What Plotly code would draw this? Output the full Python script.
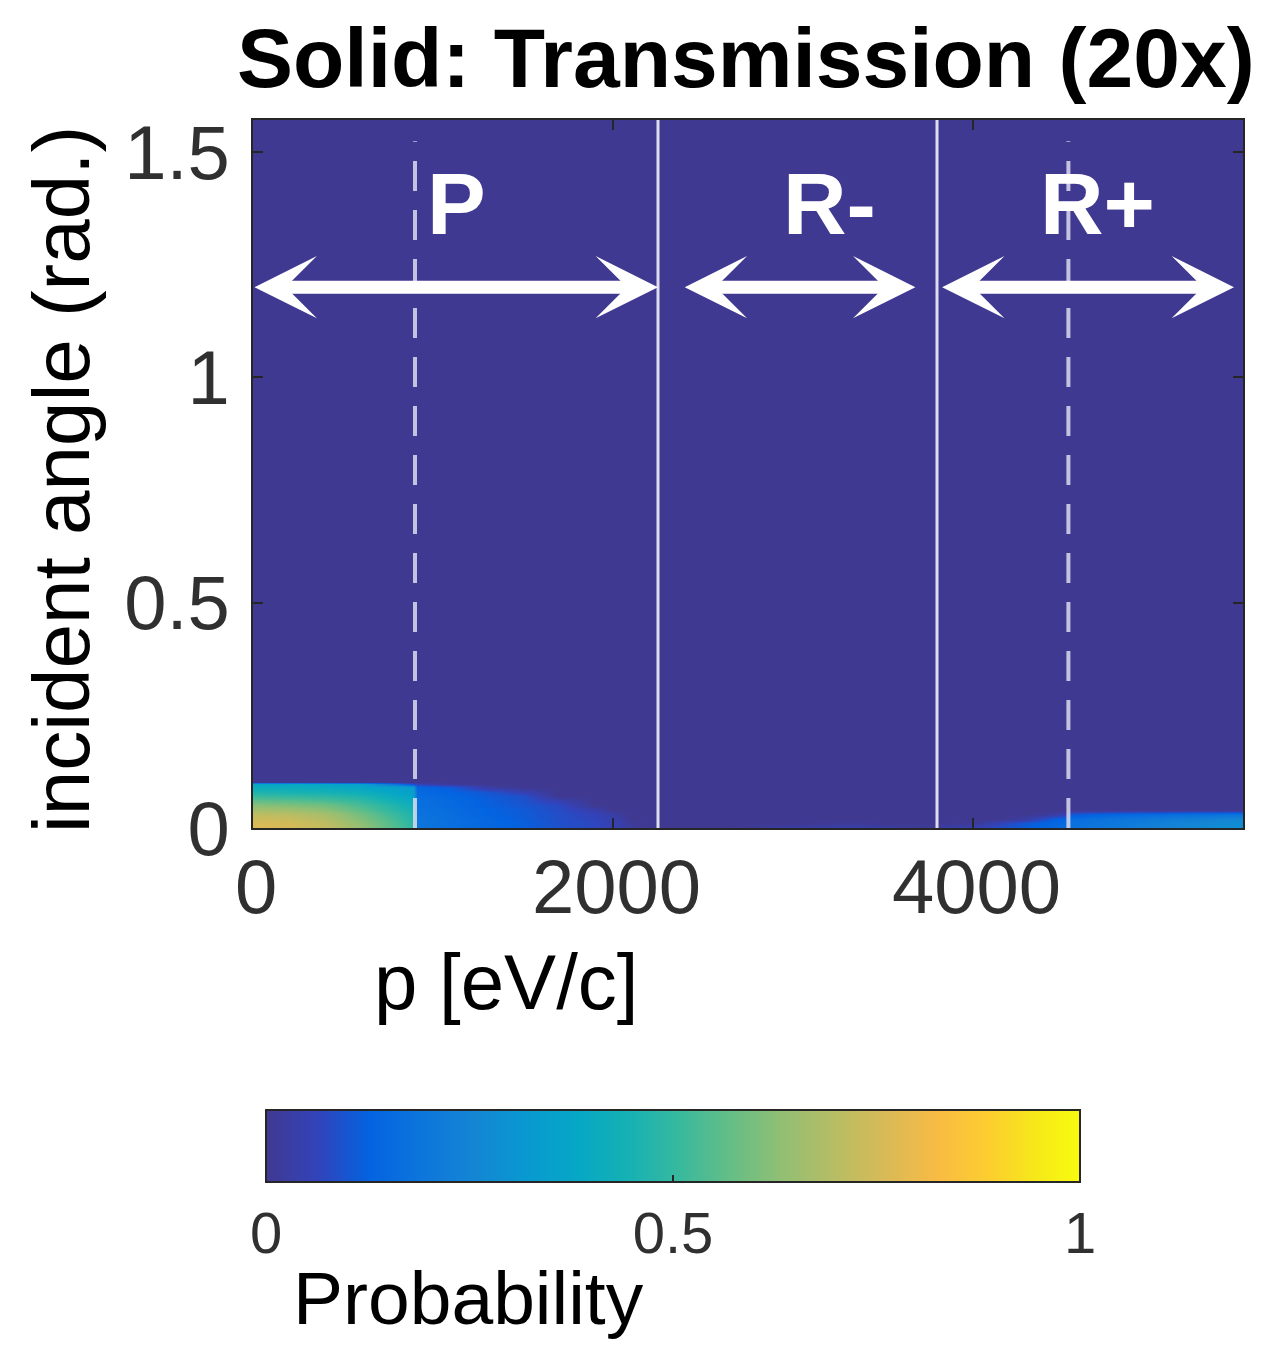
import plotly.graph_objects as go

# ---------------- data ----------------
p_values = [0, 200, 400, 600, 800, 890, 910, 1100, 1300, 1500, 1700, 1900, 2000, 2100, 2200,
            2600, 3000, 3300, 3600, 3790, 3810, 4000, 4150, 4300, 4450, 4520, 4540, 4800, 5100, 5500]
angle_values = [0, 0.01, 0.02, 0.03, 0.04, 0.05, 0.06, 0.07, 0.08, 0.09, 0.097, 0.103, 1.5708]

prob_a000 = [0.77, 0.76, 0.72, 0.64, 0.54, 0.49, 0.19, 0.17, 0.14, 0.12, 0.09, 0.07, 0.05, 0.02, 0,
             0, 0.03, 0.045, 0.02, 0.01, 0.03, 0.05, 0.09, 0.12, 0.15, 0.17, 0.18, 0.21, 0.25, 0.29]
prob_a001 = [0.76, 0.75, 0.71, 0.63, 0.53, 0.48, 0.19, 0.17, 0.14, 0.12, 0.09, 0.07, 0.05, 0.015, 0,
             0, 0, 0.01, 0, 0, 0, 0.01, 0.06, 0.11, 0.14, 0.16, 0.17, 0.20, 0.24, 0.28]
prob_a002 = [0.74, 0.73, 0.69, 0.61, 0.52, 0.47, 0.19, 0.17, 0.14, 0.115, 0.085, 0.065, 0.045, 0, 0,
             0, 0, 0, 0, 0, 0, 0, 0, 0.03, 0.12, 0.14, 0.16, 0.19, 0.22, 0.26]
prob_a003 = [0.71, 0.70, 0.67, 0.59, 0.50, 0.46, 0.18, 0.16, 0.13, 0.11, 0.085, 0.06, 0.03, 0, 0,
             0, 0, 0, 0, 0, 0, 0, 0, 0, 0.02, 0.05, 0.10, 0.14, 0.16, 0.18]
prob_a004 = [0.67, 0.66, 0.63, 0.56, 0.48, 0.44, 0.18, 0.16, 0.13, 0.11, 0.08, 0.04, 0, 0, 0,
             0, 0, 0, 0, 0, 0, 0, 0, 0, 0, 0, 0, 0, 0, 0]
prob_a005 = [0.62, 0.61, 0.59, 0.53, 0.46, 0.42, 0.17, 0.15, 0.12, 0.10, 0.075, 0, 0, 0, 0,
             0, 0, 0, 0, 0, 0, 0, 0, 0, 0, 0, 0, 0, 0, 0]
prob_a006 = [0.57, 0.56, 0.54, 0.50, 0.43, 0.40, 0.17, 0.15, 0.12, 0.095, 0.05, 0, 0, 0, 0,
             0, 0, 0, 0, 0, 0, 0, 0, 0, 0, 0, 0, 0, 0, 0]
prob_a007 = [0.51, 0.50, 0.49, 0.46, 0.40, 0.37, 0.16, 0.14, 0.11, 0.09, 0, 0, 0, 0, 0,
             0, 0, 0, 0, 0, 0, 0, 0, 0, 0, 0, 0, 0, 0, 0]
prob_a008 = [0.46, 0.45, 0.44, 0.42, 0.37, 0.35, 0.15, 0.13, 0.10, 0.05, 0, 0, 0, 0, 0,
             0, 0, 0, 0, 0, 0, 0, 0, 0, 0, 0, 0, 0, 0, 0]
prob_a009 = [0.41, 0.41, 0.40, 0.38, 0.35, 0.33, 0.14, 0.11, 0.03, 0, 0, 0, 0, 0, 0,
             0, 0, 0, 0, 0, 0, 0, 0, 0, 0, 0, 0, 0, 0, 0]
prob_a0097 = [0.38, 0.38, 0.37, 0.35, 0.18, 0.10, 0.06, 0.02, 0, 0, 0, 0, 0, 0, 0,
              0, 0, 0, 0, 0, 0, 0, 0, 0, 0, 0, 0, 0, 0, 0]
prob_a0103 = [0, 0, 0, 0, 0, 0, 0, 0, 0, 0, 0, 0, 0, 0, 0,
              0, 0, 0, 0, 0, 0, 0, 0, 0, 0, 0, 0, 0, 0, 0]
prob_top = [0, 0, 0, 0, 0, 0, 0, 0, 0, 0, 0, 0, 0, 0, 0,
            0, 0, 0, 0, 0, 0, 0, 0, 0, 0, 0, 0, 0, 0, 0]

probability = [prob_a000, prob_a001, prob_a002, prob_a003, prob_a004, prob_a005, prob_a006,
               prob_a007, prob_a008, prob_a009, prob_a0097, prob_a0103, prob_top]

x_ticks = [0, 2000, 4000]
x_tick_text = ["0", "2000", "4000"]
y_ticks = [0, 0.5, 1, 1.5]
y_tick_text = ["0", "0.5", "1", "1.5"]
cbar_ticks = [0, 0.5, 1]
cbar_tick_text = ["0", "0.5", "1"]

region_bounds = [2250, 3800]        # solid white lines
dashed_marks = [900, 4530]          # dashed white lines
region_labels = ["P", "R-", "R+"]
region_label_x = [1130, 3200, 4690]
region_arrow_start = [0, 2390, 3820]
region_arrow_end = [2250, 3680, 5450]

# ---------------- style ----------------
parula = [
    [0.000, "rgb(64,57,145)"],
    [0.0635, "rgb(50,67,186)"],
    [0.127, "rgb(3,99,225)"],
    [0.190, "rgb(13,117,220)"],
    [0.254, "rgb(20,133,212)"],
    [0.317, "rgb(9,152,209)"],
    [0.381, "rgb(6,167,198)"],
    [0.444, "rgb(21,177,180)"],
    [0.508, "rgb(56,185,158)"],
    [0.571, "rgb(101,190,134)"],
    [0.635, "rgb(146,191,115)"],
    [0.698, "rgb(183,189,100)"],
    [0.762, "rgb(217,186,86)"],
    [0.825, "rgb(248,187,68)"],
    [0.889, "rgb(252,206,46)"],
    [0.952, "rgb(245,235,24)"],
    [1.000, "rgb(249,251,14)"],
]

FONT = "Liberation Sans, Arial, Helvetica, sans-serif"
AXC = "#262626"
TICKC = "#303030"

W, H = 1272, 1345
L, R, T, B = 253, 29, 120, 517
PW, PH = W - L - R, H - T - B


def px_x(px):
    return (px - L) / PW


def px_y(py):
    return (H - B - py) / PH


fig = go.Figure()
fig.add_trace(go.Heatmap(
    x=p_values, y=angle_values, z=probability,
    zmin=0, zmax=1, zsmooth="best", colorscale=parula,
    hoverinfo="skip",
    colorbar=dict(
        orientation="h",
        x=px_x(266), xanchor="left",
        y=px_y(1110), yanchor="top",
        len=814, lenmode="pixels",
        thickness=72, thicknessmode="pixels",
        xpad=0, ypad=0,
        outlinewidth=2, outlinecolor=AXC,
        tickvals=cbar_ticks, ticktext=cbar_tick_text,
        ticks="inside", ticklen=8, tickwidth=2, tickcolor=AXC,
        tickfont=dict(family=FONT, size=58, color=TICKC),
    ),
))

shapes = []
for xv in region_bounds:
    shapes.append(dict(type="line", xref="x", yref="paper", x0=xv, x1=xv, y0=0, y1=1,
                       line=dict(color="rgba(236,236,246,0.92)", width=3)))
for xv in dashed_marks:
    shapes.append(dict(type="line", xref="x", yref="paper", x0=xv, x1=xv, y0=0, y1=0.97,
                       line=dict(color="rgba(220,220,236,0.85)", width=4, dash="30px,19px")))

annotations = []
for lab, lx in zip(region_labels, region_label_x):
    annotations.append(dict(text=lab, x=lx, y=1.385, xref="x", yref="y", showarrow=False,
                            xanchor="center", yanchor="middle",
                            font=dict(family=FONT, size=88, color="white", weight="bold")))
for xs, xe in zip(region_arrow_start, region_arrow_end):
    annotations.append(dict(text="", x=xe, y=1.2, ax=xs, ay=1.2, xref="x", yref="y",
                            axref="x", ayref="y", showarrow=True,
                            arrowhead=3, startarrowhead=3, arrowside="end+start",
                            arrowwidth=13, arrowsize=0.8, startarrowsize=0.8,
                            arrowcolor="white", standoff=0, startstandoff=0))

# x tick labels (placed closer to the axis than plotly's minimum offset allows)
for tv, tt in zip(x_ticks, x_tick_text):
    annotations.append(dict(text=tt, x=tv, y=px_y(886), xref="x", yref="paper",
                            showarrow=False, xanchor="center", yanchor="middle", xshift=3,
                            font=dict(family=FONT, size=76, color=TICKC)))

# title
annotations.append(dict(text="<b>Solid: Transmission (20x)</b>", x=px_x(746), y=px_y(58),
                        xref="paper", yref="paper", showarrow=False,
                        xanchor="center", yanchor="middle",
                        font=dict(family=FONT, size=84, color="black")))
# axis titles
annotations.append(dict(text="p [eV/c]", x=px_x(506), y=px_y(982), xref="paper", yref="paper",
                        showarrow=False, xanchor="center", yanchor="middle",
                        font=dict(family=FONT, size=78, color="black")))
annotations.append(dict(text="incident angle (rad.)", x=px_x(61), y=px_y(480), xref="paper",
                        yref="paper", showarrow=False, xanchor="center", yanchor="middle",
                        textangle=-90,
                        font=dict(family=FONT, size=80, color="black")))
annotations.append(dict(text="Probability", x=px_x(468), y=px_y(1298), xref="paper",
                        yref="paper", showarrow=False, xanchor="center", yanchor="middle",
                        font=dict(family=FONT, size=75, color="black")))

fig.update_layout(
    width=W, height=H,
    margin=dict(l=L, r=R, t=T, b=B, pad=0),
    paper_bgcolor="white", plot_bgcolor="white",
    shapes=shapes, annotations=annotations,
    showlegend=False,
    xaxis=dict(range=[0, 5500], tickvals=x_ticks, ticks="inside", ticklen=10, tickwidth=2,
               tickcolor=AXC, showline=True, linewidth=2, linecolor=AXC, mirror="ticks",
               showgrid=False, zeroline=False, showticklabels=False),
    yaxis=dict(range=[0, 1.5708], tickvals=y_ticks, ticktext=y_tick_text, ticks="inside",
               ticklen=10, tickwidth=2, tickcolor=AXC, showline=True, linewidth=2,
               linecolor=AXC, mirror="ticks", showgrid=False, zeroline=False,
               tickfont=dict(family=FONT, size=76, color=TICKC), ticklabelstandoff=6),
)

fig.write_html("out.html", config={"displayModeBar": False})
